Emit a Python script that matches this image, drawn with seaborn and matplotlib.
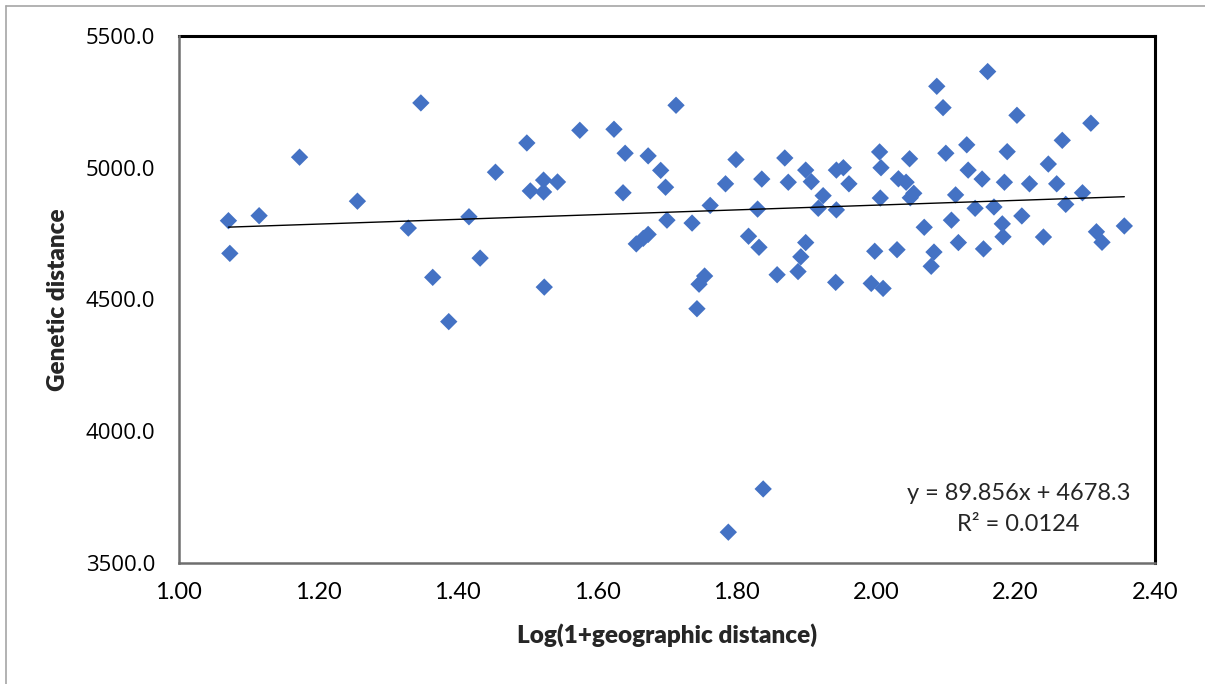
import numpy as np
import pandas as pd
import matplotlib
matplotlib.use("Agg")
import matplotlib.pyplot as plt
from matplotlib.lines import Line2D
from matplotlib.ticker import FormatStrFormatter
import seaborn as sns

# ---- data ----
log_geo_distance = [
    1.071, 1.073, 1.115, 1.173, 1.256, 1.347, 1.329, 1.416, 1.454, 1.432,
    1.364, 1.387, 1.499, 1.504, 1.523, 1.523, 1.543, 1.524, 1.575, 1.624,
    1.640, 1.637, 1.673, 1.691, 1.698, 1.713, 1.700, 1.656, 1.666, 1.673,
    1.736, 1.762, 1.754, 1.746, 1.743, 1.784, 1.799, 1.817, 1.832, 1.836,
    1.830, 1.869, 1.874, 1.858, 1.888, 1.892, 1.899, 1.899, 1.907, 1.924,
    1.917, 1.943, 1.943, 1.953, 1.961, 1.942, 2.005, 2.007, 2.006, 1.998,
    1.993, 2.010, 2.030, 2.048, 2.032, 2.043, 2.054, 2.049, 2.069, 2.083,
    2.079, 2.087, 2.096, 2.100, 2.114, 2.108, 2.118, 2.130, 2.132, 2.152,
    2.142, 2.154, 2.160, 2.169, 2.181, 2.182, 2.188, 2.184, 2.202, 2.220,
    2.209, 2.240, 2.247, 2.259, 2.267, 2.272, 2.296, 2.308, 2.316, 2.324,
    2.356, 1.838, 1.788,
]
genetic_distance = [
    4799, 4675, 4818, 5040, 4873, 5246, 4771, 4814, 4983, 4657,
    4584, 4416, 5094, 4912, 4953, 4908, 4946, 4547, 5142, 5146,
    5055, 4905, 5045, 4990, 4926, 5237, 4801, 4711, 4732, 4747,
    4790, 4857, 4589, 4558, 4465, 4939, 5031, 4740, 4698, 4957,
    4843, 5037, 4945, 4594, 4606, 4662, 4716, 4991, 4947, 4894,
    4846, 4840, 4991, 5000, 4939, 4565, 5060, 5000, 4885, 4683,
    4561, 4542, 4689, 5034, 4958, 4945, 4903, 4886, 4774, 4680,
    4626, 5309, 5228, 5055, 4897, 4801, 4716, 5087, 4991, 4957,
    4846, 4692, 5365, 4851, 4787, 4738, 5061, 4945, 5199, 4939,
    4817, 4737, 5014, 4939, 5104, 4861, 4905, 5169, 4757, 4717,
    4779, 3781, 3617,
]
trend_slope = 89.856
trend_intercept = 4678.3
equation_text = "y = 89.856x + 4678.3"
r2_text = "R² = 0.0124"
x_ticks = [1.00, 1.20, 1.40, 1.60, 1.80, 2.00, 2.20, 2.40]
y_ticks = [3500.0, 4000.0, 4500.0, 5000.0, 5500.0]
x_title = "Log(1+geographic distance)"
y_title = "Genetic distance"

df = pd.DataFrame({"x": log_geo_distance, "y": genetic_distance})

# ---- style ----
sns.set_style("white")
plt.rcParams["font.family"] = ["Lato", "DejaVu Sans"]

fig = plt.figure(figsize=(12.05, 6.84), dpi=100)
ax = fig.add_axes([0.1485, 0.1769, 0.81, 0.7705])

sns.scatterplot(data=df, x="x", y="y", marker="D", s=78, color="#4472C4",
                edgecolor="none", linewidth=0, ax=ax, zorder=3)

# trend line over the data range
xl = np.array([min(log_geo_distance), max(log_geo_distance)])
ax.plot(xl, trend_slope * xl + trend_intercept, color="black", lw=1.0, zorder=4)

ax.set_xlim(x_ticks[0], x_ticks[-1])
ax.set_ylim(y_ticks[0], y_ticks[-1])
ax.set_xticks(x_ticks)
ax.set_yticks(y_ticks)
ax.xaxis.set_major_formatter(FormatStrFormatter("%.2f"))
ax.yaxis.set_major_formatter(FormatStrFormatter("%.1f"))

for lab in ax.get_yticklabels():
    lab.set_fontfamily(["Open Sans", "DejaVu Sans"])
    lab.set_fontsize(16)
for lab in ax.get_xticklabels():
    lab.set_fontfamily(["Lato", "DejaVu Sans"])
    lab.set_fontsize(17)

ax.tick_params(axis="both", direction="out", length=5, width=1, color="#8c8c8c",
               labelcolor="black")
ax.tick_params(axis="y", pad=12)
ax.tick_params(axis="x", pad=9)

ax.set_xlabel(x_title, fontsize=17.5, fontweight="heavy", labelpad=14,
              fontfamily=["Lato", "DejaVu Sans"])
ax.set_ylabel(y_title, fontsize=17.5, fontweight="heavy", labelpad=12,
              fontfamily=["Lato", "DejaVu Sans"])

for side in ["top", "right"]:
    ax.spines[side].set_color("black")
    ax.spines[side].set_linewidth(2.2)
for side in ["left", "bottom"]:
    ax.spines[side].set_color("#6e6e6e")
    ax.spines[side].set_linewidth(1.8)
    ax.spines[side].set_zorder(5)

ax.text(0.860, 0.103, equation_text + "\n" + r2_text, transform=ax.transAxes,
        ha="center", va="center", fontsize=17, linespacing=1.6,
        fontfamily=["Lato", "DejaVu Sans"])

# outer chart border (top and left visible)
fig.add_artist(Line2D([0.005, 1.0], [0.991, 0.991], transform=fig.transFigure,
                      color="#a6a6a6", lw=1.2))
fig.add_artist(Line2D([0.005, 0.005], [0.0, 0.991], transform=fig.transFigure,
                      color="#a6a6a6", lw=1.2))

fig.savefig("out.png", dpi=100, facecolor="white")
